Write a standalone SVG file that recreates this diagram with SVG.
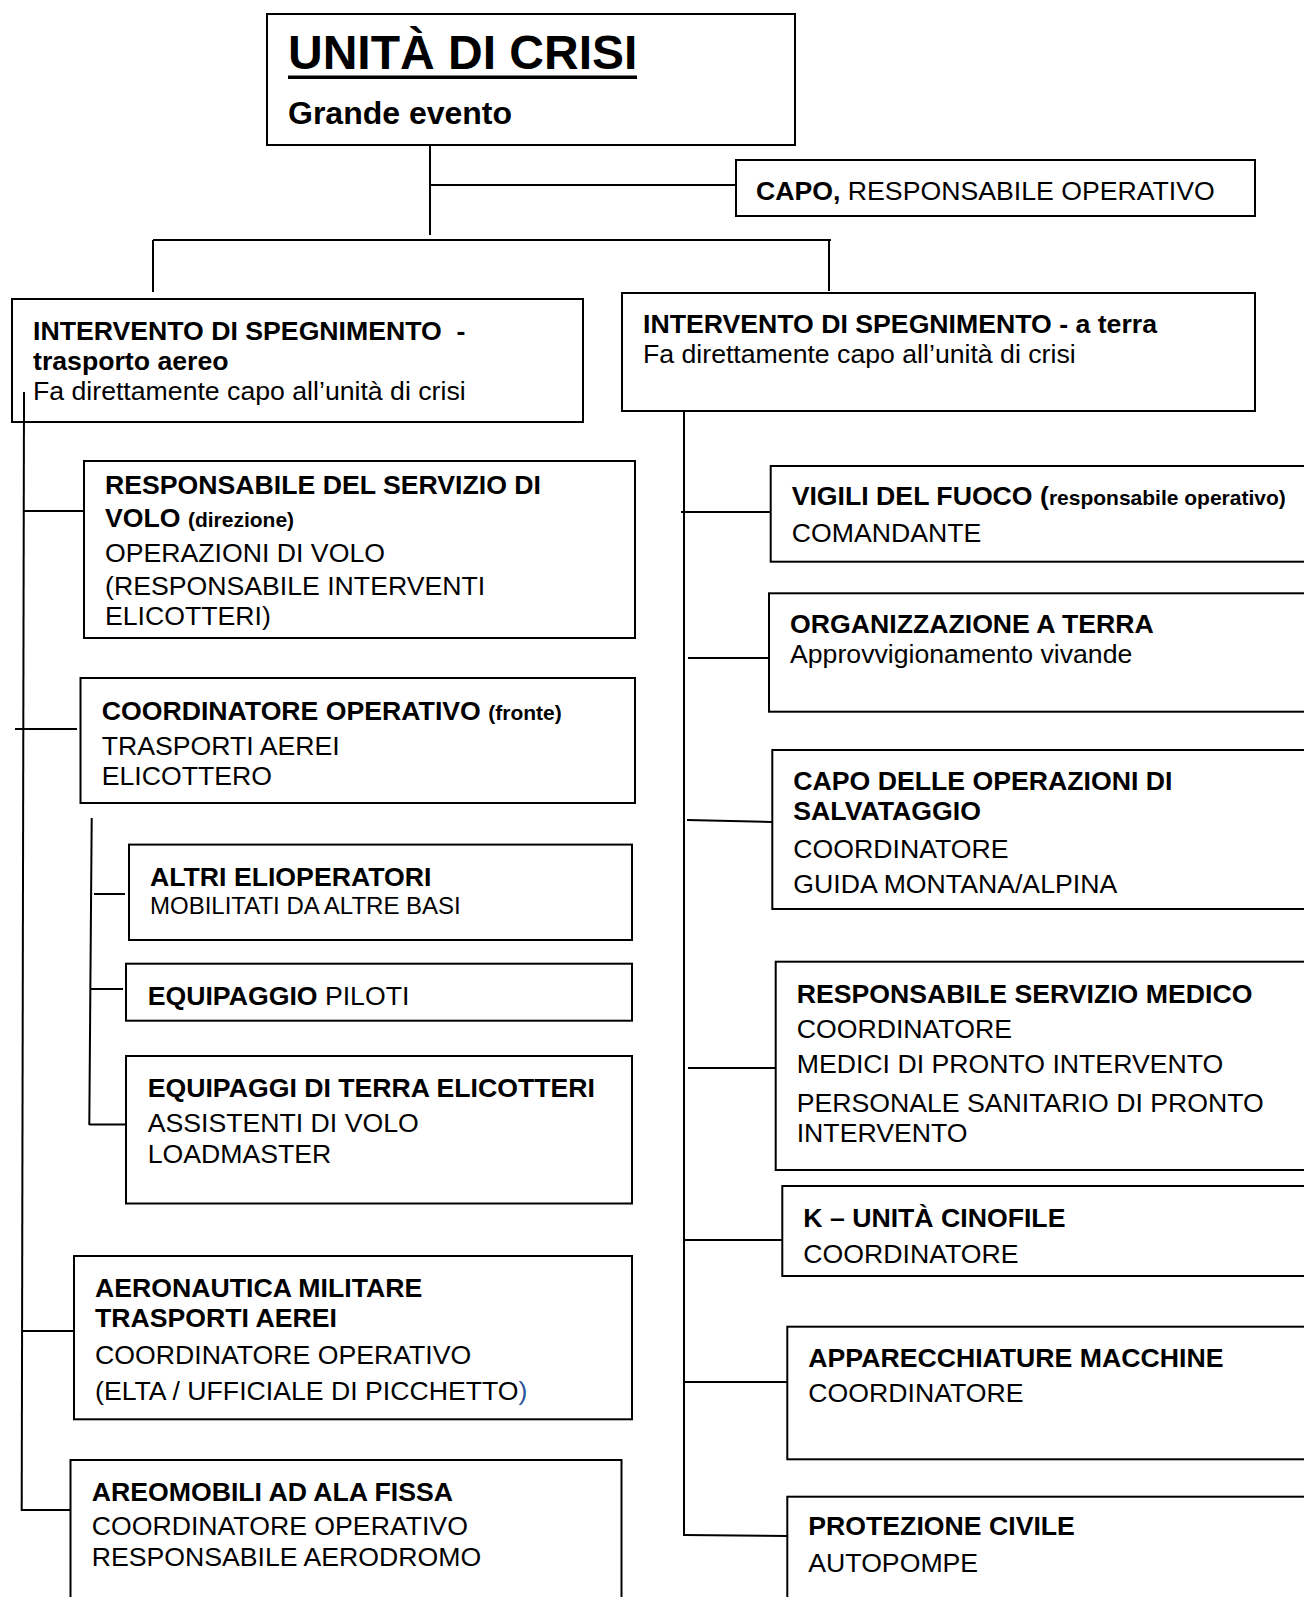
<svg xmlns="http://www.w3.org/2000/svg" width="1304" height="1597" viewBox="0 0 1304 1597">
<style>
.box{fill:#fff;stroke:#000;stroke-width:2}
.ln{stroke:#000;stroke-width:2;fill:none}
text{font-family:"Liberation Sans",Arial,sans-serif;fill:#000}
.t{font-size:26.67px}
.b{font-weight:bold}
.s{font-size:21px;font-weight:bold}
.m{font-size:24px}
</style>
<rect width="1304" height="1597" fill="#fff"/>
<g id="connectors">
<line class="ln" x1="430" y1="145" x2="430" y2="235"/>
<line class="ln" x1="430" y1="185" x2="736" y2="185"/>
<line class="ln" x1="153" y1="240" x2="831" y2="240"/>
<line class="ln" x1="153" y1="240" x2="153" y2="292"/>
<line class="ln" x1="829" y1="240" x2="829" y2="291"/>
<line class="ln" x1="24" y1="392" x2="21.7" y2="1511"/>
<line class="ln" x1="24" y1="511" x2="84" y2="511"/>
<line class="ln" x1="15" y1="729" x2="77" y2="729"/>
<line class="ln" x1="22" y1="1331" x2="74" y2="1331"/>
<line class="ln" x1="21.7" y1="1510" x2="71" y2="1510"/>
<line class="ln" x1="91.7" y1="818" x2="89.3" y2="1125"/>
<line class="ln" x1="94" y1="894" x2="125" y2="894"/>
<line class="ln" x1="91" y1="989" x2="123" y2="989"/>
<line class="ln" x1="89.3" y1="1124.6" x2="126" y2="1124.6"/>
<line class="ln" x1="684" y1="409" x2="684" y2="1536"/>
<line class="ln" x1="681" y1="512" x2="771" y2="512"/>
<line class="ln" x1="688" y1="658" x2="769" y2="658"/>
<line class="ln" x1="687" y1="820" x2="772" y2="822"/>
<line class="ln" x1="688" y1="1068" x2="776" y2="1068"/>
<line class="ln" x1="684" y1="1240" x2="782" y2="1240"/>
<line class="ln" x1="684" y1="1382" x2="787" y2="1382"/>
<line class="ln" x1="684" y1="1535" x2="787" y2="1536"/>
</g>
<g id="unita-di-crisi">
<rect class="box" x="267" y="14" width="528" height="131"/>
<text x="288" y="69" font-size="48" font-weight="bold">UNITÀ DI CRISI</text>
<rect x="288" y="75.5" width="349" height="3.5" fill="#000"/>
<text x="288" y="124" font-size="32" font-weight="bold">Grande evento</text>
</g>
<g id="capo">
<rect class="box" x="736" y="160" width="519" height="56"/>
<text class="t" x="756" y="200"><tspan class="b">CAPO,</tspan> RESPONSABILE OPERATIVO</text>
</g>
<g id="intervento-aereo">
<rect class="box" x="12" y="299" width="571" height="123"/>
<text class="t b" x="33" y="340" xml:space="preserve">INTERVENTO DI SPEGNIMENTO  -</text>
<text class="t b" x="33" y="370">trasporto aereo</text>
<text class="t" x="33" y="400">Fa direttamente capo all’unità di crisi</text>
</g>
<line class="ln" x1="24" y1="392" x2="24" y2="422"/>
<g id="intervento-terra">
<rect class="box" x="622" y="293" width="633" height="118"/>
<text class="t b" x="643" y="333">INTERVENTO DI SPEGNIMENTO - a terra</text>
<text class="t" x="643" y="363">Fa direttamente capo all’unità di crisi</text>
</g>
<g id="servizio-volo">
<rect class="box" x="84" y="461" width="551" height="177"/>
<text class="t b" x="105" y="494">RESPONSABILE DEL SERVIZIO DI</text>
<text class="t b" x="105" y="527">VOLO <tspan class="s">(direzione)</tspan></text>
<text class="t" x="105" y="562">OPERAZIONI DI VOLO</text>
<text class="t" x="105" y="595">(RESPONSABILE INTERVENTI</text>
<text class="t" x="105" y="625">ELICOTTERI)</text>
</g>
<g id="coordinatore-operativo">
<rect class="box" x="80.5" y="678" width="554.5" height="125"/>
<text class="t b" x="101.7" y="719.5">COORDINATORE OPERATIVO <tspan class="s">(fronte)</tspan></text>
<text class="t" x="101.7" y="755">TRASPORTI AEREI</text>
<text class="t" x="101.7" y="785">ELICOTTERO</text>
</g>
<g id="altri-elioperatori">
<rect class="box" x="129" y="844.6" width="503" height="95.4"/>
<text class="t b" x="150" y="886">ALTRI ELIOPERATORI</text>
<text class="m" x="150" y="914">MOBILITATI DA ALTRE BASI</text>
</g>
<g id="equipaggio">
<rect class="box" x="126" y="963.7" width="506" height="57"/>
<text class="t" x="147.7" y="1004.5"><tspan class="b">EQUIPAGGIO</tspan> PILOTI</text>
</g>
<g id="equipaggi-terra">
<rect class="box" x="126" y="1056" width="506" height="147.5"/>
<text class="t b" x="147.7" y="1097">EQUIPAGGI DI TERRA ELICOTTERI</text>
<text class="t" x="147.7" y="1132">ASSISTENTI DI VOLO</text>
<text class="t" x="147.7" y="1162.5">LOADMASTER</text>
</g>
<g id="aeronautica">
<rect class="box" x="74" y="1256" width="558" height="163.3"/>
<text class="t b" x="95" y="1297">AERONAUTICA MILITARE</text>
<text class="t b" x="95" y="1327">TRASPORTI AEREI</text>
<text class="t" x="95" y="1363.5">COORDINATORE OPERATIVO</text>
<text class="t" x="95" y="1399.5">(ELTA / UFFICIALE DI PICCHETTO<tspan fill="#2E54A0">)</tspan></text>
</g>
<g id="areomobili">
<rect class="box" x="70.5" y="1460" width="551" height="150"/>
<text class="t b" x="91.7" y="1501">AREOMOBILI AD ALA FISSA</text>
<text class="t" x="91.7" y="1534.5">COORDINATORE OPERATIVO</text>
<text class="t" x="91.7" y="1566">RESPONSABILE AERODROMO</text>
</g>
<g id="vigili">
<rect class="box" x="770.7" y="466" width="545" height="95.7"/>
<text class="t b" x="791.7" y="505">VIGILI DEL FUOCO (<tspan class="s">responsabile operativo)</tspan></text>
<text class="t" x="791.7" y="542.3">COMANDANTE</text>
</g>
<g id="organizzazione">
<rect class="box" x="769" y="593.3" width="545" height="118.4"/>
<text class="t b" x="790" y="633.3">ORGANIZZAZIONE A TERRA</text>
<text class="t" x="790" y="663.3">Approvvigionamento vivande</text>
</g>
<g id="salvataggio">
<rect class="box" x="772.3" y="750" width="545" height="159"/>
<text class="t b" x="793.3" y="790">CAPO DELLE OPERAZIONI DI</text>
<text class="t b" x="793.3" y="820">SALVATAGGIO</text>
<text class="t" x="793.3" y="857.7">COORDINATORE</text>
<text class="t" x="793.3" y="892.7">GUIDA MONTANA/ALPINA</text>
</g>
<g id="servizio-medico">
<rect class="box" x="775.7" y="961.7" width="545" height="208.3"/>
<text class="t b" x="796.7" y="1003.3">RESPONSABILE SERVIZIO MEDICO</text>
<text class="t" x="796.7" y="1038.3">COORDINATORE</text>
<text class="t" x="796.7" y="1073.3">MEDICI DI PRONTO INTERVENTO</text>
<text class="t" x="796.7" y="1111.7">PERSONALE SANITARIO DI PRONTO</text>
<text class="t" x="796.7" y="1141.7">INTERVENTO</text>
</g>
<g id="cinofile">
<rect class="box" x="782.3" y="1186" width="545" height="90"/>
<text class="t b" x="803.3" y="1226.7">K – UNITÀ CINOFILE</text>
<text class="t" x="803.3" y="1262.7">COORDINATORE</text>
</g>
<g id="apparecchiature">
<rect class="box" x="787.3" y="1326.7" width="545" height="132.6"/>
<text class="t b" x="808.3" y="1366.7">APPARECCHIATURE MACCHINE</text>
<text class="t" x="808.3" y="1401.7">COORDINATORE</text>
</g>
<g id="protezione-civile">
<rect class="box" x="787.3" y="1496.7" width="545" height="150"/>
<text class="t b" x="808.3" y="1535">PROTEZIONE CIVILE</text>
<text class="t" x="808.3" y="1571.7">AUTOPOMPE</text>
</g>
</svg>
